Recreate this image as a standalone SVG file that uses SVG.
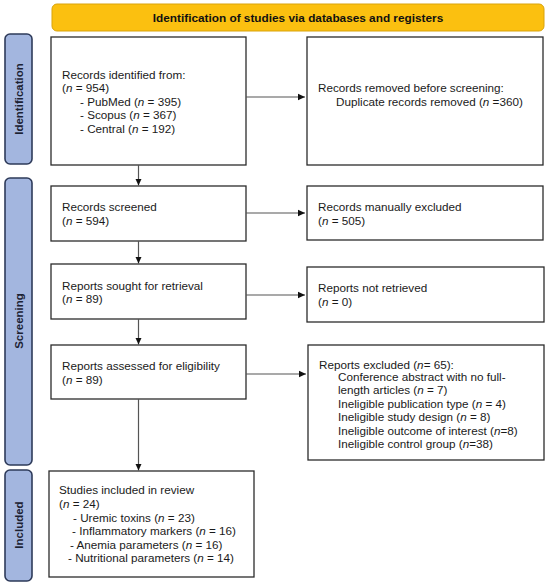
<svg xmlns="http://www.w3.org/2000/svg" width="550" height="586" viewBox="0 0 550 586">
<defs>
<marker id="ah" markerWidth="8" markerHeight="8" refX="7" refY="4" orient="auto" markerUnits="userSpaceOnUse">
<path d="M0,0.8 L7,4 L0,7.2 Z" fill="#111"/>
</marker>
<style>
.box{fill:#fff;stroke:#2b2b2b;stroke-width:1.3}
.side{fill:#a3b6df;stroke:#2e3b5a;stroke-width:1.6}
.t{font-family:"Liberation Sans",Arial,sans-serif;font-size:11.7px;fill:#1a1a1a}
.sl{font-family:"Liberation Sans",Arial,sans-serif;font-size:11.5px;font-weight:bold;fill:#1c2233;text-anchor:middle}
.hd{font-family:"Liberation Sans",Arial,sans-serif;font-size:11.8px;font-weight:bold;fill:#111;text-anchor:middle}
.c{fill:none;stroke:#555;stroke-width:1.2;marker-end:url(#ah)}
.i{font-style:italic}
</style>
</defs>
<rect width="550" height="586" fill="#fff"/>

<g id="banner">
<rect x="52" y="4" width="492" height="27" rx="5" fill="#fbc010" stroke="#d9a30a" stroke-width="1"/>
<text class="hd" x="298" y="22">Identification of studies via databases and registers</text>
</g>

<g id="side-identification">
<rect class="side" x="5" y="34" width="27" height="130" rx="5"/>
<text class="sl" transform="translate(22.5,99) rotate(-90)">Identification</text>
</g>
<g id="side-screening">
<rect class="side" x="5" y="178" width="27" height="287" rx="5"/>
<text class="sl" transform="translate(22.5,321) rotate(-90)">Screening</text>
</g>
<g id="side-included">
<rect class="side" x="5" y="470" width="27" height="111" rx="5"/>
<text class="sl" transform="translate(22.5,525) rotate(-90)">Included</text>
</g>

<g id="records-identified">
<rect class="box" x="51" y="37" width="195" height="128"/>
<text class="t" x="62" y="79">Records identified from:</text>
<text class="t" x="62" y="92">(<tspan class="i">n</tspan> = 954)</text>
<text class="t" x="80" y="105.5">- PubMed (<tspan class="i">n</tspan> = 395)</text>
<text class="t" x="80" y="119">- Scopus (<tspan class="i">n</tspan> = 367)</text>
<text class="t" x="80" y="132.5">- Central (<tspan class="i">n</tspan> = 192)</text>
</g>

<g id="records-removed">
<rect class="box" x="307" y="37" width="236" height="128"/>
<text class="t" x="318" y="92">Records removed before screening:</text>
<text class="t" x="336" y="105.5">Duplicate records removed (<tspan class="i">n</tspan> =360)</text>
</g>

<g id="records-screened">
<rect class="box" x="51" y="186" width="195" height="55"/>
<text class="t" x="62" y="210.5">Records screened</text>
<text class="t" x="62" y="224.5">(<tspan class="i">n</tspan> = 594)</text>
</g>

<g id="records-excluded">
<rect class="box" x="307" y="186" width="236" height="54"/>
<text class="t" x="318" y="210.5">Records manually excluded</text>
<text class="t" x="318" y="224.5">(<tspan class="i">n</tspan> = 505)</text>
</g>

<g id="reports-sought">
<rect class="box" x="51" y="264" width="195" height="55"/>
<text class="t" x="62" y="289.5">Reports sought for retrieval</text>
<text class="t" x="62" y="303">(<tspan class="i">n</tspan> = 89)</text>
</g>

<g id="reports-not-retrieved">
<rect class="box" x="307" y="267" width="237" height="55"/>
<text class="t" x="318" y="292">Reports not retrieved</text>
<text class="t" x="318" y="305.5">(<tspan class="i">n</tspan> = 0)</text>
</g>

<g id="reports-assessed">
<rect class="box" x="51" y="345" width="195" height="54"/>
<text class="t" x="62" y="369.5">Reports assessed for eligibility</text>
<text class="t" x="62" y="383.5">(<tspan class="i">n</tspan> = 89)</text>
</g>

<g id="reports-excluded">
<rect class="box" x="308" y="345" width="236" height="115"/>
<text class="t" x="319" y="369">Reports excluded (<tspan class="i">n</tspan>= 65):</text>
<text class="t" x="338" y="380.5">Conference abstract with no full-</text>
<text class="t" x="338" y="393.5">length articles (<tspan class="i">n</tspan> = 7)</text>
<text class="t" x="338" y="407.5">Ineligible publication type (<tspan class="i">n</tspan> = 4)</text>
<text class="t" x="338" y="421">Ineligible study design (<tspan class="i">n</tspan> = 8)</text>
<text class="t" x="338" y="434.5">Ineligible outcome of interest (<tspan class="i">n</tspan>=8)</text>
<text class="t" x="338" y="447.5">Ineligible control group (<tspan class="i">n</tspan>=38)</text>
</g>

<g id="studies-included">
<rect class="box" x="49" y="471" width="205" height="106"/>
<text class="t" x="59" y="494">Studies included in review</text>
<text class="t" x="59" y="508">(<tspan class="i">n</tspan> = 24)</text>
<text class="t" x="73" y="521.5">- Uremic toxins (<tspan class="i">n</tspan> = 23)</text>
<text class="t" x="72" y="535">- Inflammatory markers (<tspan class="i">n</tspan> = 16)</text>
<text class="t" x="70" y="548.5">-  Anemia parameters (<tspan class="i">n</tspan> = 16)</text>
<text class="t" x="68" y="562">-  Nutritional parameters (<tspan class="i">n</tspan> = 14)</text>
</g>

<g id="connectors">
<path class="c" d="M246,97 H305"/>
<path class="c" d="M246,213 H305"/>
<path class="c" d="M246,295 H305"/>
<path class="c" d="M246,374 H306"/>
<path class="c" d="M138.5,165 V185.5"/>
<path class="c" d="M138.5,241 V263.5"/>
<path class="c" d="M138.5,319 V344.5"/>
<path class="c" d="M138.5,399 V470.5"/>
</g>
</svg>
